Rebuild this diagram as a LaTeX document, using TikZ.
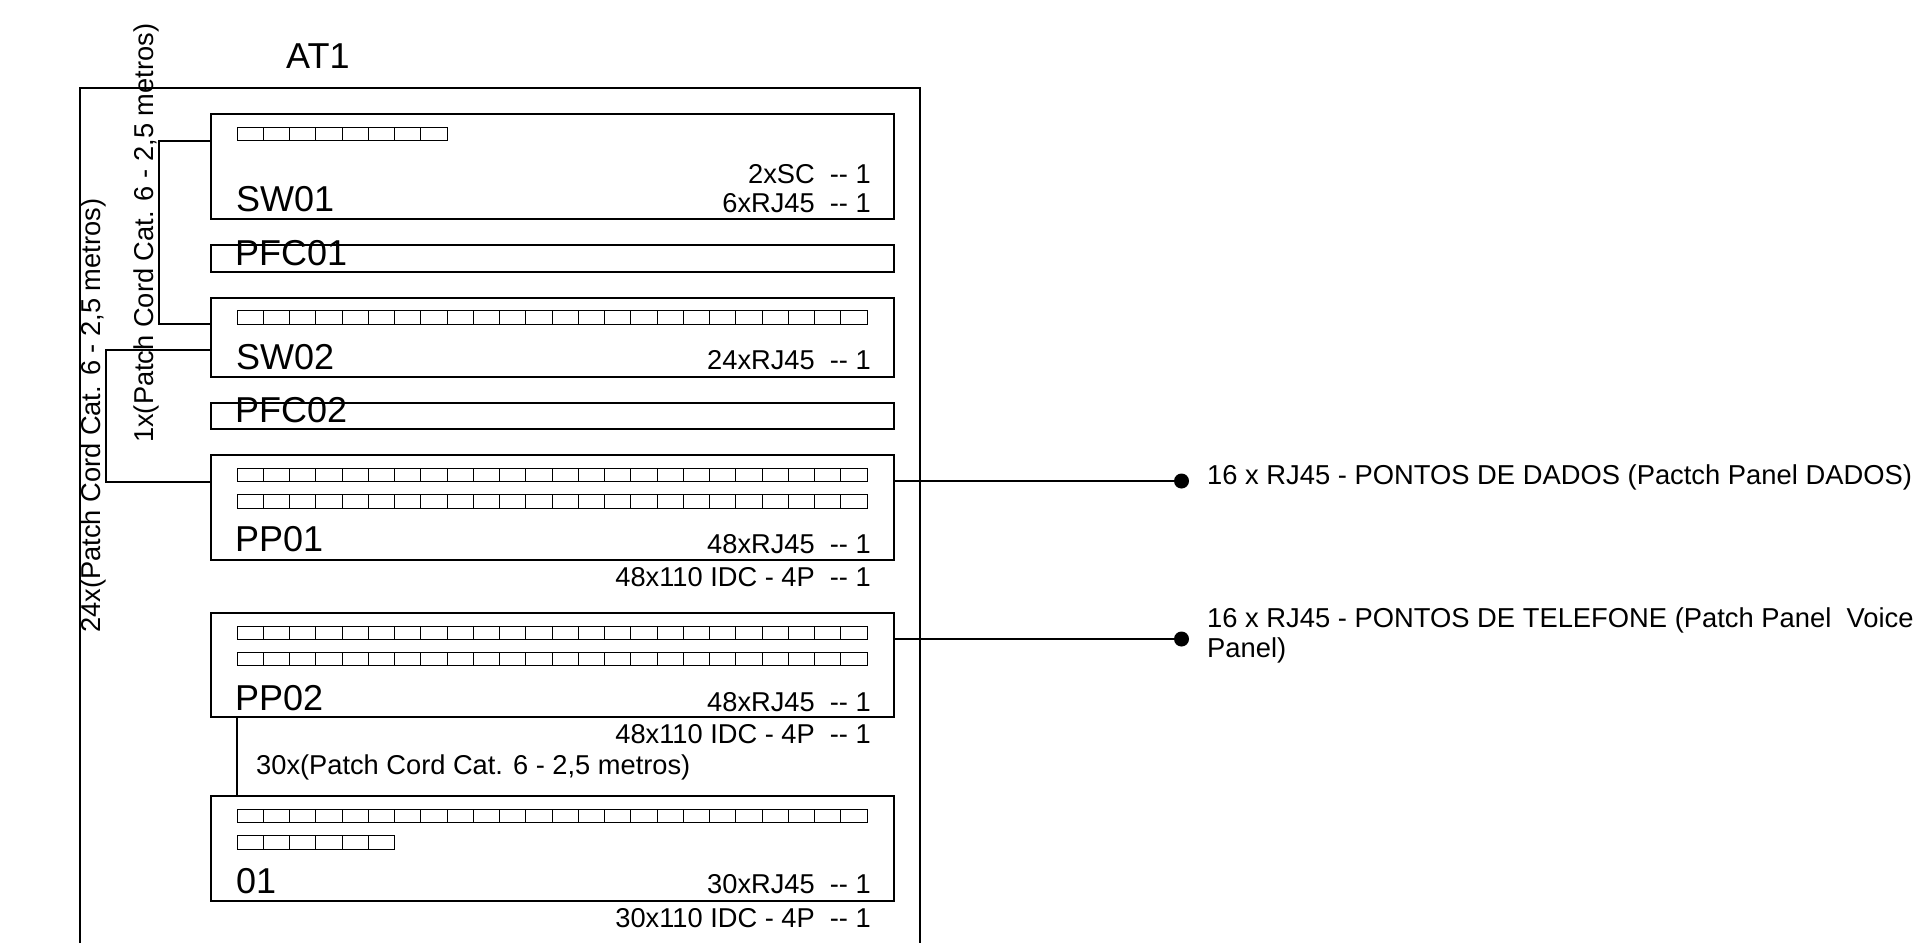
\documentclass[tikz,border=0pt]{standalone}
\usepackage{fontspec}
\setmainfont{Liberation Sans}
\newcommand{\portrow}[3]{%
  \foreach \i in {1,...,#3} \node[portcell] (#1-\i) at ({237+26.25*(\i-.5)},#2) {};}
\newcommand{\rack}[3]{%
  \node[rackbox,minimum height={#3-#2}] (#1) at (552.5,{(#2+#3)/2}) {};}
\tikzset{
  rackbox/.style={draw=black,line width=1.8pt,fill=none,minimum width=683,inner sep=0pt,outer sep=0pt},
  portcell/.style={draw=black,line width=1pt,minimum width=26.25,minimum height=13.4,inner sep=0pt,outer sep=0pt},
  wire/.style={draw=black,line width=1.7pt},
  name label/.style={font=\fontsize{36}{36}\selectfont,anchor=base west,inner sep=0pt},
  spec label/.style={font=\fontsize{27.25}{30}\selectfont,anchor=base east,inner sep=0pt},
  note label/.style={font=\fontsize{27.25}{30}\selectfont,anchor=base west,inner sep=0pt},
  rot label/.style={font=\fontsize{27.25}{30}\selectfont,anchor=base west,inner sep=0pt,rotate=90},
  side label/.style={font=\fontsize{27.35}{30}\selectfont,anchor=base west,inner sep=0pt},
  enddot/.style={circle,fill=black,draw=none,minimum size=15,inner sep=0pt,outer sep=0pt},
}
\begin{document}
\begin{tikzpicture}[x=1pt,y=-1pt]
\useasboundingbox (0,0) rectangle (1915,943);
\clip (0,0) rectangle (1915,943);
\fill[white] (0,0) rectangle (1915,943);
% outer frame
\coordinate (fa) at (80,943);
\coordinate (fb) at (80,88);
\coordinate (fc) at (920,88);
\coordinate (fd) at (920,943);
\draw[wire] (fa) -- (fb) -- (fc) -- (fd);
% racks
\rack{sw01}{114}{219}
\rack{pfc01}{245}{272}
\rack{sw02}{298}{377}
\rack{pfc02}{403}{429}
\rack{pp01}{455}{560}
\rack{pp02}{613}{717}
\rack{u01}{796}{901}
% ports
\portrow{swa}{134}{8}
\portrow{swb}{317.5}{24}
\portrow{ppa}{475}{24}
\portrow{ppb}{501.3}{24}
\portrow{ppc}{632.7}{24}
\portrow{ppd}{659}{24}
\portrow{ua}{816}{24}
\portrow{ub}{842.3}{6}
% connectors
\coordinate (c1) at (159,140.7);
\coordinate (c2) at (105.7,350);
\draw[wire] (sw01.west |- c1) -- (c1) -- (c1 |- swb-1.south) -- (sw02.west |- swb-1.south);
\draw[wire] (sw02.west |- c2) -- (c2) -- (c2 |- ppa-1.south) -- (pp01.west |- ppa-1.south);
\draw[wire] (pp02.south -| ppc-1.west) -- (u01.north -| ppc-1.west);
\node[enddot] (d1) at (1181.5,481) {};
\node[enddot] (d2) at (1181.5,639) {};
\draw[wire] (pp01.east |- d1) -- (d1);
\draw[wire] (pp02.east |- d2) -- (d2);
% titles
\node[name label] (tat) at (286,68) {AT1};
\node[name label] (t1) at (236,211) {SW01};
\node[name label] (t2) at (235,265) {PFC01};
\node[name label] (t3) at (236,369) {SW02};
\node[name label] (t4) at (235,422.5) {PFC02};
\node[name label] (t5) at (235,551.5) {PP01};
\node[name label] (t6) at (235,710) {PP02};
\node[name label] (t7) at (236,893) {01};
% specs
\node[spec label] (s1) at (871,183) {2xSC\ \ {-}{-} 1};
\node[spec label] (s2) at (871,212) {6xRJ45\ \ {-}{-} 1};
\node[spec label] (s3) at (871,369.5) {24xRJ45\ \ {-}{-} 1};
\node[spec label] (s4) at (871,553.5) {48xRJ45\ \ {-}{-} 1};
\node[spec label] (s5) at (871,586.5) {48x110 IDC - 4P\ \ {-}{-} 1};
\node[spec label] (s6) at (871,711) {48xRJ45\ \ {-}{-} 1};
\node[spec label] (s7) at (871,743.5) {48x110 IDC - 4P\ \ {-}{-} 1};
\node[spec label] (s8) at (871,893.5) {30xRJ45\ \ {-}{-} 1};
\node[spec label] (s9) at (871,927) {30x110 IDC - 4P\ \ {-}{-} 1};
\node[note label] (n1) at (256,774) {30x(Patch Cord Cat. 6 - 2,5 metros)};
\node[rot label] (r1) at (153,443) {1x(Patch Cord Cat. 6 - 2,5 metros)};
\node[rot label] (r2) at (100.7,633) {24x(Patch Cord Cat. 6 - 2,5 metros)};
\node[side label] (o1) at (1207,484) {16 x RJ45 - PONTOS DE DADOS (Pactch Panel DADOS)};
\node[side label] (o2) at (1207,627) {16 x RJ45 - PONTOS DE TELEFONE (Patch Panel\ \ Voice};
\node[side label] (o3) at (1207,657) {Panel)};
\end{tikzpicture}
\end{document}
